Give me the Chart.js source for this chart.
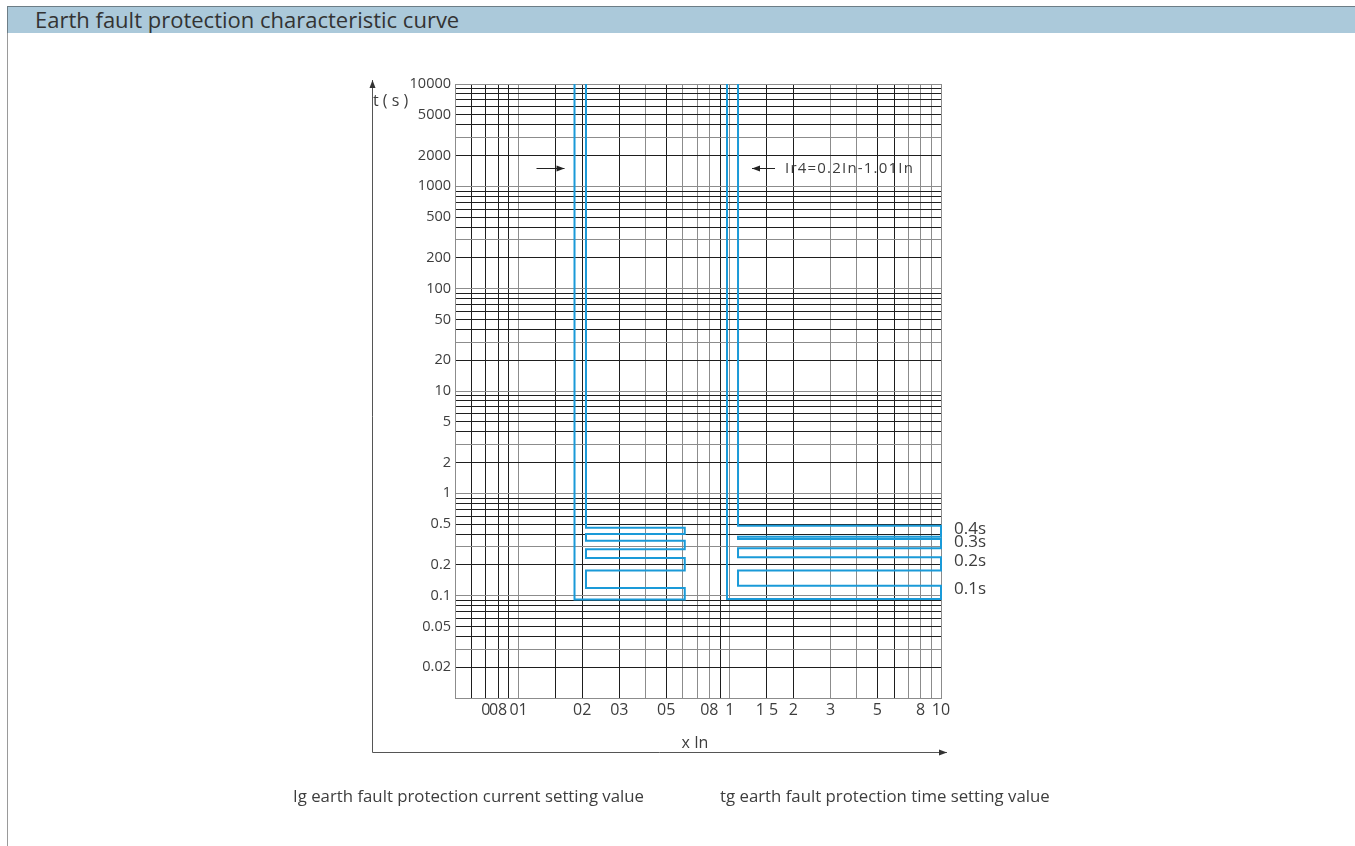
<!DOCTYPE html>
<html>
<head>
<meta charset="utf-8">
<title>Earth fault protection characteristic curve</title>
<script src="https://cdn.jsdelivr.net/npm/chart.js@4/dist/chart.umd.min.js"></script>
<style>
  html, body { margin: 0; padding: 0; background: #ffffff; }
  body { width: 1355px; height: 846px; position: relative; overflow: hidden; font-family: "Open Sans", "Noto Sans", sans-serif; }
  #frame { position: absolute; left: 7px; top: 33px; width: 1px; height: 813px; background: #9a9a9a; }
  #header {
    position: absolute; left: 7px; top: 6px; width: 1348px; height: 27px;
    background: #abc9da; border-top: 1px solid #6d7d86; border-left: 1px solid #6d7d86;
    box-sizing: border-box; color: #333; font-size: 22px; line-height: 24px; padding-left: 27px;
  }
  #wrap { position: absolute; left: 0; top: 0; width: 1355px; height: 846px; }
</style>
</head>
<body>
<div id="frame"></div>
<div id="header">Earth fault protection characteristic curve</div>
<div id="wrap"><canvas id="chart" width="1355" height="846"></canvas></div>
<script>
// Time-setting bands (tg) and their drawn band limits, in seconds
const bandNames = ['0.4s', '0.3s', '0.2s', '0.1s'];
const igBandTop    = [0.46, 0.345, 0.234, 0.119];
const igBandBottom = [0.40, 0.284, 0.176, 0.0915];
const irBandTop    = [0.483, 0.358, 0.237, 0.125];
const irBandBottom = [0.377, 0.290, 0.176, 0.093];

// Current settings (x In): outer / inner vertical and end of the bands
const igOuter = 0.184, igInner = 0.2085, igEnd = 0.612;
const irOuter = 0.97,  irInner = 1.094,  irEnd = 10;
const curveTop = 10000;

// Axis ranges
const xMin = 0.05, xMax = 10;
const yMin = 0.01, yMax = 10000;

// Grid lines and tick labels
const xGridValues = [0.05, 0.06, 0.07, 0.08, 0.09, 0.1, 0.15, 0.2, 0.3, 0.4, 0.5, 0.6, 0.7, 0.8, 0.9,
                     1, 1.5, 2, 3, 4, 5, 6, 7, 8, 9, 10];
const xGreyLines  = [0.05, 0.1, 0.4, 0.6, 0.7, 0.8, 1, 3, 4, 7, 8, 9, 10];
const xLabelValues = [0.07, 0.08, 0.1, 0.2, 0.3, 0.5, 0.8, 1, 1.5, 2, 3, 5, 8, 10];
const xLabelTexts  = ['0', '08', '01', '02', '03', '05', '08', '1', '1 5', '2', '3', '5', '8', '10'];

const yDecades   = [0.01, 0.1, 1, 10, 100, 1000];
const yMantissas = [1, 2, 3, 4, 5, 6, 7, 8, 9];
const yGreyMantissas = [1, 3];
const yLabelValues = [10000, 5000, 2000, 1000, 500, 200, 100, 50, 20, 10, 5, 2, 1, 0.5, 0.2, 0.1, 0.05, 0.02];
const yLabelTexts  = ['10000', '5000', '2000', '1000', '500', '200', '100', '50', '20', '10', '5', '2', '1',
                      '0.5', '0.2', '0.1', '0.05', '0.02'];

const yGridValues = [];
yDecades.forEach(d => yMantissas.forEach(m => yGridValues.push(+(d * m).toPrecision(3))));
yGridValues.push(yMax);

const near = (a, b) => Math.abs(a - b) / b < 1e-6;

// Comb-shaped outline: down the inner edge, zig-zag through each band, back up the outer edge
function combOutline(outer, inner, end, tops, bottoms) {
  const pts = [{x: inner, y: curveTop}];
  tops.forEach((t, i) => {
    pts.push({x: inner, y: t}, {x: end, y: t}, {x: end, y: bottoms[i]});
    if (i < tops.length - 1) pts.push({x: inner, y: bottoms[i]});
  });
  pts.push({x: outer, y: bottoms[bottoms.length - 1]}, {x: outer, y: curveTop});
  return pts;
}

const BLUE = '#1a9ad8';
const TEXT = '#3d3d3d';
const FONT = '"Open Sans", "Noto Sans", sans-serif';

function arrow(ctx, x1, y1, x2, y2) {
  const a = Math.atan2(y2 - y1, x2 - x1);
  ctx.beginPath(); ctx.moveTo(x1, y1); ctx.lineTo(x2, y2); ctx.stroke();
  ctx.beginPath();
  ctx.moveTo(x2, y2);
  ctx.lineTo(x2 - 8 * Math.cos(a) + 3 * Math.sin(a), y2 - 8 * Math.sin(a) - 3 * Math.cos(a));
  ctx.lineTo(x2 - 8 * Math.cos(a) - 3 * Math.sin(a), y2 - 8 * Math.sin(a) + 3 * Math.cos(a));
  ctx.closePath(); ctx.fill();
}

const annotate = {
  id: 'annotate',
  afterDatasetsDraw(chart) {
    const {ctx, chartArea: ca, scales: {x, y}} = chart;
    ctx.save();

    // axes with arrowheads
    ctx.strokeStyle = '#555'; ctx.fillStyle = '#333'; ctx.lineWidth = 1;
    const axX = 372.5, axY = 752.5;
    arrow(ctx, axX, axY, axX, 80);
    arrow(ctx, axX, axY, 947, axY);

    ctx.fillStyle = TEXT;
    ctx.font = '16px ' + FONT;
    ctx.textBaseline = 'middle';
    ctx.textAlign = 'left';
    ctx.fillText('t ( s )', 373, 101);
    ctx.textAlign = 'center';
    ctx.fillText('x In', 695, 743);

    // setting-range arrows
    ctx.strokeStyle = '#222'; ctx.fillStyle = '#222';
    const ay = Math.round(y.getPixelForValue(1500)) + 0.5;
    const lTip = x.getPixelForValue(igOuter) - 10;
    arrow(ctx, lTip - 28, ay, lTip, ay);
    const rTip = x.getPixelForValue(irInner) + 14;
    arrow(ctx, rTip + 23, ay, rTip, ay);
    ctx.fillStyle = TEXT;
    ctx.textAlign = 'left';
    ctx.font = '15px ' + FONT;
    ctx.letterSpacing = '1.2px';
    ctx.fillText('Ir4=0.2In-1.01In', rTip + 33, ay);
    ctx.letterSpacing = '0px';

    // band names on the right
    ctx.font = '17px ' + FONT;
    bandNames.forEach((n, i) => {
      ctx.fillText(n, ca.right + 13, y.getPixelForValue(irBandTop[i]) + 3.5);
    });

    // captions
    ctx.font = '16.8px ' + FONT;
    ctx.fillText('Ig earth fault protection current setting value', 293, 797);
    ctx.fillText('tg earth fault protection time setting value', 720, 797);
    ctx.restore();
  }
};

const lineSet = (data) => ({
  data, showLine: true, borderColor: BLUE, borderWidth: 2, pointRadius: 0,
  fill: false, tension: 0, clip: 4, borderJoinStyle: 'miter'
});

new Chart(document.getElementById('chart'), {
  type: 'scatter',
  data: {
    datasets: [
      lineSet(combOutline(igOuter, igInner, igEnd, igBandTop, igBandBottom)),
      lineSet(combOutline(irOuter, irInner, irEnd, irBandTop, irBandBottom))
    ]
  },
  options: {
    responsive: false,
    animation: false,
    events: [],
    layout: { padding: { left: 0, top: 84, right: 1355 - 941, bottom: 118 } },
    plugins: { legend: { display: false }, tooltip: { enabled: false } },
    scales: {
      x: {
        type: 'logarithmic', min: xMin, max: xMax,
        afterBuildTicks: s => { s.ticks = xGridValues.map(v => ({value: v})); },
        afterFit: s => { s.height = 30; },
        grid: {
          drawTicks: false, lineWidth: 1,
          color: c => (c.tick && xGreyLines.some(v => near(c.tick.value, v))) ? '#8c8c8c' : '#1e1e1e'
        },
        border: { display: true, color: '#8c8c8c', width: 1 },
        ticks: {
          autoSkip: false, maxRotation: 0, padding: 3, color: TEXT,
          font: { family: FONT, size: 16 },
          callback: v => {
            const i = xLabelValues.findIndex(t => near(v, t));
            return i >= 0 ? xLabelTexts[i] : '';
          }
        }
      },
      y: {
        type: 'logarithmic', min: yMin, max: yMax,
        afterBuildTicks: s => { s.ticks = yGridValues.map(v => ({value: v})); },
        afterFit: s => { s.width = 455; },
        grid: {
          drawTicks: false, lineWidth: 1,
          color: c => {
            if (!c.tick) return '#1e1e1e';
            const m = Math.round(c.tick.value / Math.pow(10, Math.floor(Math.log10(c.tick.value) + 1e-9)));
            return yGreyMantissas.includes(m) ? '#8c8c8c' : '#1e1e1e';
          }
        },
        border: { display: true, color: '#8c8c8c', width: 1 },
        ticks: {
          autoSkip: false, padding: 4, color: TEXT,
          font: { family: FONT, size: 14.5 },
          callback: v => {
            const i = yLabelValues.findIndex(t => near(v, t));
            return i >= 0 ? yLabelTexts[i] : '';
          }
        }
      }
    }
  },
  plugins: [annotate]
});
</script>
</body>
</html>
